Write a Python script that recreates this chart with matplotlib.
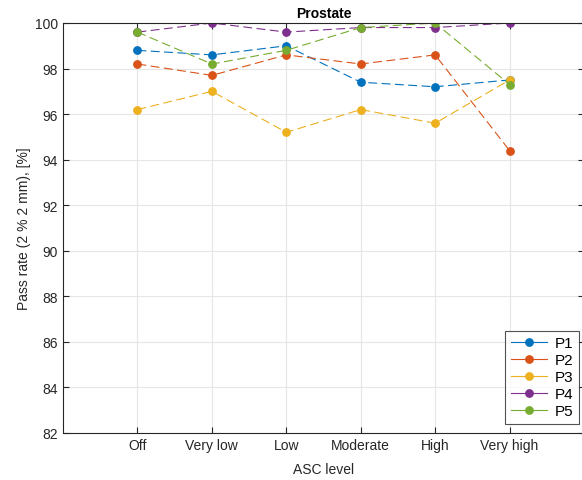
import matplotlib.pyplot as plt

plt.rcParams['font.family'] = ['Liberation Sans', 'DejaVu Sans']

levels = ["Off", "Very low", "Low", "Moderate", "High", "Very high"]
patients = ["P1", "P2", "P3", "P4", "P5"]

p1 = [98.8, 98.6, 99.0, 97.4, 97.2, 97.5]
p2 = [98.2, 97.7, 98.6, 98.2, 98.6, 94.4]
p3 = [96.2, 97.0, 95.2, 96.2, 95.6, 97.5]
p4 = [99.6, 100.0, 99.6, 99.8, 99.8, 100.0]
p5 = [99.6, 98.2, 98.8, 99.8, 100.0, 97.3]

colors = ["#0072BD", "#D95319", "#EDB120", "#7E2F8E", "#77AC30"]
axis_color = "#262626"

fig = plt.figure(figsize=(5.82, 4.81), dpi=100)
ax = fig.add_axes([63 / 582, 47 / 481, 521 / 582, 410 / 481])

x = range(1, len(levels) + 1)
for name, vals, c in zip(patients, [p1, p2, p3, p4, p5], colors):
    ax.plot(x, vals, linestyle=(0, (8, 4)), linewidth=0.8, color=c,
            marker="o", markersize=5.3, label=name)

ax.set_xlim(0, 7)
ax.set_ylim(82, 100)
ax.set_xticks(list(x))
ax.set_xticklabels(levels)
ax.set_yticks(range(82, 101, 2))

ax.grid(True, color="#e6e6e6", linewidth=0.8)
ax.set_axisbelow(True)
for side in ["left", "bottom", "top", "right"]:
    ax.spines[side].set_color(axis_color)
    ax.spines[side].set_linewidth(0.8)
ax.tick_params(direction="in", length=4, width=0.8, colors=axis_color,
               labelsize=10, top=True, right=True)
for lab in ax.get_xticklabels() + ax.get_yticklabels():
    lab.set_color(axis_color)

ax.set_title("Prostate", fontsize=10, fontweight="bold", pad=4)
ax.set_xlabel("ASC level", fontsize=10, color=axis_color, labelpad=7)
ax.set_ylabel("Pass rate (2 % 2 mm), [%]", fontsize=10, color=axis_color,
              labelpad=3)

leg = ax.legend(loc="lower right", bbox_to_anchor=(0.9905, 0.023),
                fontsize=11, frameon=True, fancybox=False,
                handlelength=2.4, handletextpad=0.5, borderpad=0.35,
                labelspacing=0.2, borderaxespad=0)
leg.get_frame().set_edgecolor(axis_color)
leg.get_frame().set_linewidth(0.8)
for line in leg.get_lines():
    line.set_linestyle("-")

fig.savefig("out.png", dpi=100)
